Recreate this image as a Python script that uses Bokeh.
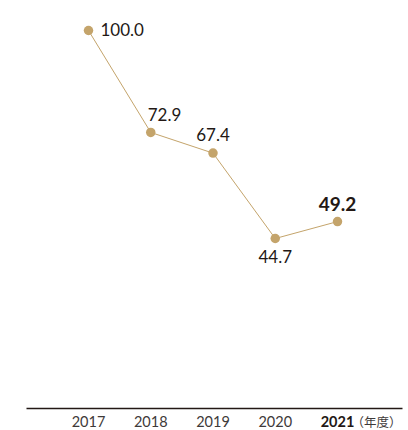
from bokeh.plotting import figure
from bokeh.models import ColumnDataSource, Range1d
from bokeh.core.properties import value
from bokeh.embed import file_html
from bokeh.resources import INLINE

# ---- data ----
years = [2017, 2018, 2019, 2020, 2021]
values = [100.0, 72.9, 67.4, 44.7, 49.2]
value_labels = ["100.0", "72.9", "67.4", "44.7", "49.2"]
tick_labels = ["2017", "2018", "2019", "2020", "2021"]
unit_label = "（年度）"

# ---- layout / style ----
GOLD = "#C4A46B"
DARK = "#231815"
GREY = "#3E3A39"
FONT = "Lato"

W, H = 408, 430
p = figure(width=W, height=H, output_backend="svg", toolbar_location=None,
           x_range=Range1d(2015.5863, 2022.1405), y_range=Range1d(-6.346, 107.976),
           min_border=0, outline_line_color=None)
p.axis.visible = False
p.grid.visible = False
p.background_fill_color = "white"
p.border_fill_color = "white"

src = ColumnDataSource(dict(x=years, y=values, lab=value_labels))

# baseline axis line (y = 0 level)
axis_y = -0.5
p.segment(x0=[2016.004], y0=[axis_y], x1=[2022.044], y1=[axis_y],
          line_color=DARK, line_width=1.3)

p.line("x", "y", source=src, line_color=GOLD, line_width=1)
p.scatter("x", "y", source=src, size=9.5, fill_color=GOLD, line_color=None)

# value labels (per-point placement)
xo = [12, -3, 0, 0, 0]
yo = [-1, -18, -19, 18, -18]
al = ["left", "left", "center", "center", "center"]
for i in range(len(years)):
    bold = i == len(years) - 1
    p.text(x=[years[i]], y=[values[i]], text=[value_labels[i]],
           x_offset=xo[i], y_offset=yo[i],
           text_align=al[i], text_baseline="middle",
           text_font=value(FONT),
           text_font_size="19px" if bold else "17px",
           text_font_style="bold" if bold else "normal",
           text_color=DARK)

# category tick labels
for i in range(len(years)):
    bold = i == len(years) - 1
    p.text(x=[years[i]], y=[axis_y], text=[tick_labels[i]],
           x_offset=0, y_offset=13,
           text_align="center", text_baseline="middle",
           text_font=value(FONT), text_font_size="14.5px",
           text_font_style="bold" if bold else "normal",
           text_color=DARK if bold else GREY)

p.text(x=[years[-1]], y=[axis_y], text=[unit_label],
       x_offset=14, y_offset=13, text_align="left", text_baseline="middle",
       text_font=value("Noto Sans CJK JP"), text_font_size="12.5px",
       text_color=GREY)

open("out.html", "w").write(file_html(p, INLINE))
